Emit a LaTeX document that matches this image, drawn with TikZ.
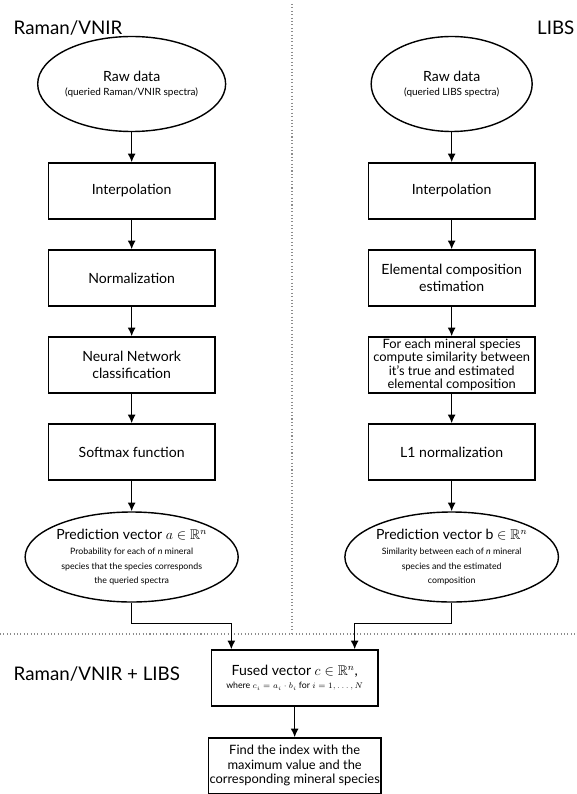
\documentclass[tikz,border=0pt]{standalone}
\usepackage{amssymb}
\usepackage{fontspec}
\setmainfont{Lato}
\usepackage{tikz}
\usetikzlibrary{positioning}
\usetikzlibrary{%
  shapes.geometric,%
  calc,%
  arrows.meta%
}
\newcommand{\subtxt}{\fontsize{7.5}{9}\selectfont}
\newcommand{\midtxt}{\fontsize{8.5}{10}\selectfont}
\tikzset{
  box/.style={draw, line width=1.2pt, minimum width=5cm, minimum height=1.68cm,
    align=center, inner sep=1pt, font=\fontsize{12}{14}\selectfont},
  oval/.style={draw, ellipse, line width=1.2pt, align=center, inner sep=0pt,
    font=\fontsize{12}{14}\selectfont},
  sep/.style={dotted, black!45, line width=0.9pt},
  title/.style={font=\fontsize{16}{19}\selectfont, inner sep=0pt}
}

\begin{document}
\begin{tikzpicture}[>={Latex[length=2.6mm,width=2.4mm]}, line width=1.2pt]
\useasboundingbox (0,0) rectangle (17.28,-23.82);

\node[title, anchor=base west] (T1) at (0.39,-1.05) {Raman/VNIR};
\node[title, anchor=base east] (T2) at (17.25,-1.05) {LIBS};
\node[title, anchor=base west] (T3) at (0.39,-20.4) {Raman/VNIR + LIBS};

\node[oval, minimum width=4.83cm, minimum height=2.85cm] (L0) at (3.95,-2.52)
  {Raw data\\[-2pt]\midtxt (queried Raman/VNIR spectra)};
\node[box] (L1) at (3.95,-5.73) {Interpolation};
\node[box] (L2) at (3.95,-8.34) {Normalization};
\node[box] (L3) at (3.95,-10.95) {Neural Network\\classification};
\node[box] (L4) at (3.95,-13.56) {Softmax function};
\node[oval, minimum width=4.98cm, minimum height=2.7cm] (L5) at (3.95,-16.71)
  {Prediction vector $a \in \mathbb{R}^n$\\[-1pt]
   \subtxt Probability for each of \textit{n} mineral\\[-2pt]
   \subtxt species that the species corresponds\\[-2pt]
   \subtxt the queried spectra};

\node[oval, minimum width=4.83cm, minimum height=2.85cm] (R0) at (13.55,-2.52)
  {Raw data\\[-2pt]\midtxt (queried LIBS spectra)};
\node[box] (R1) at (13.55,-5.73) {Interpolation};
\node[box] (R2) at (13.55,-8.34) {Elemental composition\\estimation};
\node[box, font=\fontsize{11}{11.5}\selectfont] (R3) at (13.55,-10.95)
  {For each mineral species\\compute similarity between\\it’s true and estimated\\elemental composition};
\node[box] (R4) at (13.55,-13.56) {L1 normalization};
\node[oval, minimum width=4.98cm, minimum height=2.7cm] (R5) at (13.55,-16.71)
  {Prediction vector b $\in \mathbb{R}^n$\\[-1pt]
   \subtxt Similarity between each of \textit{n} mineral\\[-2pt]
   \subtxt species and the estimated\\[-2pt]
   \subtxt composition};

\node[box] (F0) at (8.84,-20.34)
  {Fused vector $c \in \mathbb{R}^n$,\\[-3pt]
   \subtxt where $c_i = a_i \cdot b_i$ for $i = 1, \ldots, N$};
\node[box, font=\fontsize{11}{12.5}\selectfont, minimum height=1.66cm] (F1) at (8.84,-22.97)
  {Find\ the index with the\\maximum value and the\\corresponding mineral species};

% separators
\draw[sep] (8.76,-0.12) -- (8.76,-19.02);
\draw[sep] (0,-19.02) -- (17.28,-19.02);

\path[->] (L0) edge (L1)
          (L1) edge (L2)
          (L2) edge (L3)
          (L3) edge (L4)
          (L4) edge (L5)
          (R0) edge (R1)
          (R1) edge (R2)
          (R2) edge (R3)
          (R3) edge (R4)
          (R4) edge (R5)
          (F0) edge (F1);

\draw[->] (L5.south) -- ++(0,-0.63) -| ([xshift=-1.9cm]F0.north);
\draw[->] (R5.south) -- ++(0,-0.63) -| ([xshift=1.8cm]F0.north);
\end{tikzpicture}
\end{document}
